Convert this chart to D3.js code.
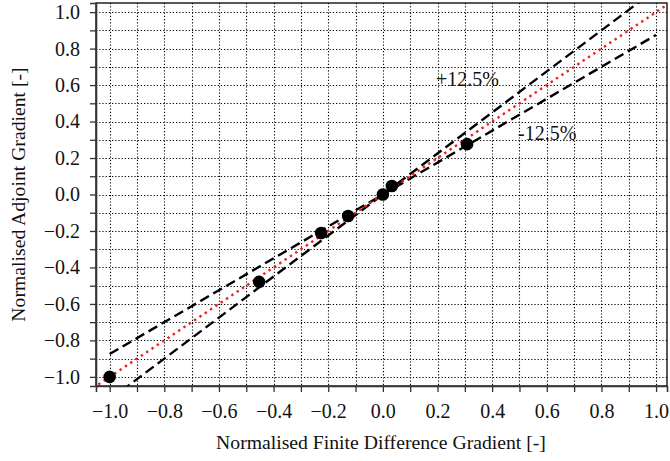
<!DOCTYPE html>
<html>
<head>
<meta charset="utf-8">
<script src="https://cdn.jsdelivr.net/npm/d3@7"></script>
<style>
  html, body { margin: 0; padding: 0; background: #fff; }
  svg { display: block; }
  text { font-family: "Liberation Serif", "Times New Roman", serif; }
</style>
</head>
<body>
<div id="chart"></div>
<script>
// ---- Data ----
const fdGradient      = [-1.0, -0.453, -0.226, -0.127, 0.0, 0.033, 0.308];
const adjointGradient = [-1.0, -0.479, -0.211, -0.118, 0.0, 0.047, 0.276];
const majorTicks = [-1.0, -0.8, -0.6, -0.4, -0.2, 0.0, 0.2, 0.4, 0.6, 0.8, 1.0];
const minorTicks = [-1.0, -0.9, -0.8, -0.7, -0.6, -0.5, -0.4, -0.3, -0.2, -0.1, 0.0, 0.1, 0.2, 0.3, 0.4, 0.5, 0.6, 0.7, 0.8, 0.9, 1.0];
const upperFactor = 1.125;   // +12.5%
const lowerFactor = 0.875;   // -12.5%
const lineExtent = [-1.0, 1.0];
const identityExtent = [-1.1, 1.1];
const xLabel = "Normalised Finite Difference Gradient [-]";
const yLabel = "Normalised Adjoint Gradient [-]";
const upperLabel = "+12.5%";
const lowerLabel = "-12.5%";

// ---- Layout ----
const W = 670, H = 461;
const pL = 96, pR = 667, pT = 3, pB = 386;
const FONT = '"Liberation Serif", "Times New Roman", serif';

const svg = d3.select("#chart").append("svg").attr("width", W).attr("height", H);

const x = d3.scaleLinear().domain([-1.05, 1.04]).range([pL, pR]);
const y = d3.scaleLinear().domain([-1.05, 1.05]).range([pB, pT]);

const fmt = d3.format(".1f");
const fmtTick = d => majorTicks.some(m => Math.abs(m - d) < 1e-9) ? fmt(d).replace("-", "\u2212") : "";

// grid
const grid = svg.append("g").attr("stroke", "#000").attr("stroke-width", 1.1).attr("stroke-dasharray", "1.2,2");
grid.selectAll("line.vx").data(minorTicks).join("line").attr("class", "vx")
  .attr("x1", d => Math.round(x(d)) + 0.5).attr("x2", d => Math.round(x(d)) + 0.5)
  .attr("y1", pT).attr("y2", pB);
grid.selectAll("line.hy").data(minorTicks).join("line").attr("class", "hy")
  .attr("y1", d => Math.round(y(d)) + 0.5).attr("y2", d => Math.round(y(d)) + 0.5)
  .attr("x1", pL).attr("x2", pR);

// clip
svg.append("defs").append("clipPath").attr("id", "clip")
  .append("rect").attr("x", pL).attr("y", pT).attr("width", pR - pL).attr("height", pB - pT);
const plot = svg.append("g").attr("clip-path", "url(#clip)");

const line = d3.line().x(d => x(d[0])).y(d => y(d[1]));

// dashed bounds
[upperFactor, lowerFactor].forEach(f => {
  plot.append("path")
    .datum(lineExtent.map(v => [v, f * v]))
    .attr("d", line)
    .attr("fill", "none").attr("stroke", "#000").attr("stroke-width", 2.4)
    .attr("stroke-dasharray", "10,5");
});

// identity line
plot.append("path")
  .datum(identityExtent.map(v => [v, v]))
  .attr("d", line)
  .attr("fill", "none").attr("stroke", "#e8201e").attr("stroke-width", 2.4)
  .attr("stroke-dasharray", "2.4,4");

// points
plot.selectAll("circle").data(fdGradient.map((v, i) => [v, adjointGradient[i]])).join("circle")
  .attr("cx", d => x(d[0])).attr("cy", d => y(d[1])).attr("r", 6.3)
  .attr("fill", "#000");

// frame
svg.append("rect").attr("x", pL).attr("y", pT).attr("width", pR - pL).attr("height", pB - pT)
  .attr("fill", "none").attr("stroke", "#000").attr("stroke-width", 1.3);

// axes
const xAxis = d3.axisBottom(x).tickValues(minorTicks).tickFormat(fmtTick).tickSize(6).tickPadding(12);
const yAxis = d3.axisLeft(y).tickValues(minorTicks).tickFormat(fmtTick).tickSize(6).tickPadding(10);

const gx = svg.append("g").attr("transform", `translate(0,${pB})`).call(xAxis);
const gy = svg.append("g").attr("transform", `translate(${pL},0)`).call(yAxis);
[gx, gy].forEach(g => {
  g.attr("font-family", FONT).attr("font-size", 20);
  g.select(".domain").attr("stroke", "#333").attr("stroke-width", 1.6);
  g.selectAll(".tick line").attr("stroke", "#333").attr("stroke-width", 1.3);
  g.selectAll(".tick text").attr("fill", "#111");
});

// labels
svg.append("text").attr("x", 381).attr("y", 449)
  .attr("text-anchor", "middle").attr("font-size", 19.7).attr("fill", "#111").text(xLabel);
svg.append("text").attr("transform", `translate(25,${(pT + pB) / 2}) rotate(-90)`)
  .attr("text-anchor", "middle").attr("font-size", 19.7).attr("fill", "#111").text(yLabel);

svg.append("text").attr("x", 436).attr("y", 86).attr("font-size", 20).attr("fill", "#111").text(upperLabel);
svg.append("text").attr("x", 518).attr("y", 140).attr("font-size", 20).attr("fill", "#111").text(lowerLabel);
</script>
</body>
</html>
